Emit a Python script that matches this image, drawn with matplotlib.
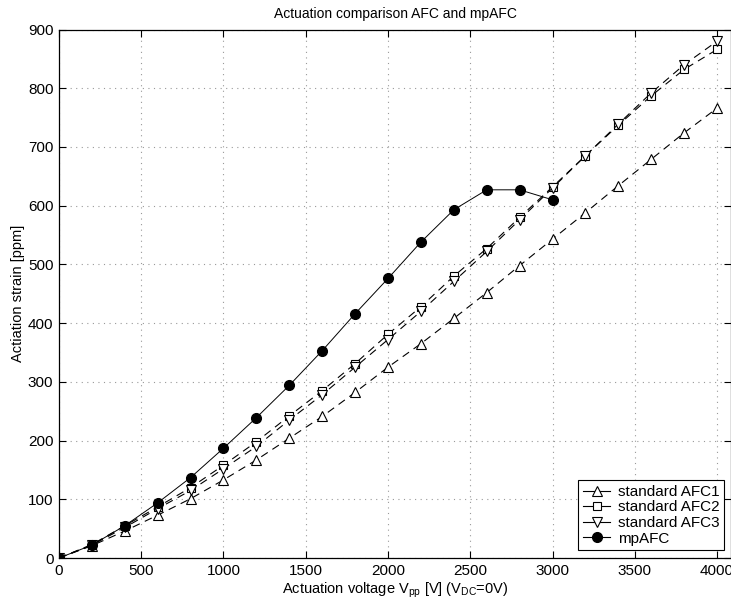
import matplotlib
matplotlib.use('Agg')
import matplotlib.pyplot as plt
from matplotlib.lines import Line2D

plt.rcParams['font.family'] = ['Liberation Sans', 'DejaVu Sans']
plt.rcParams['mathtext.default'] = 'regular'

# Actuation voltage (Vpp)
voltage = [0, 200, 400, 600, 800, 1000, 1200, 1400, 1600, 1800, 2000,
           2200, 2400, 2600, 2800, 3000, 3200, 3400, 3600, 3800, 4000]
voltage_mp = voltage[:16]

# strain in ppm
afc1 = [0, 21, 46, 73, 101, 133, 167, 204, 241, 282, 325,
        365, 408, 452, 498, 543, 588, 634, 679, 724, 766]
afc2 = [0, 23, 55, 87, 120, 158, 198, 242, 285, 331, 381,
        428, 480, 527, 580, 632, 685, 737, 787, 832, 866]
afc3 = [0, 22, 52, 84, 115, 152, 190, 235, 278, 325, 372,
        420, 471, 522, 576, 630, 685, 739, 792, 840, 880]
mpafc = [0, 22, 55, 94, 137, 187, 239, 294, 353, 416, 476,
         538, 593, 627, 627, 610]

labels = ['standard AFC1', 'standard AFC2', 'standard AFC3', 'mpAFC']

fig = plt.figure(figsize=(7.31, 6.07), dpi=100)
ax = fig.add_axes([0.0807, 0.0807, 0.9193, 0.8707])

dash = (0, (7, 5))
ax.plot(voltage, afc1, color='black', ls=dash, lw=0.8, marker='^',
        ms=7, mfc='white', mec='black', mew=0.8)
ax.plot(voltage, afc2, color='black', ls=dash, lw=0.8, marker='s',
        ms=6, mfc='white', mec='black', mew=0.8)
ax.plot(voltage, afc3, color='black', ls=dash, lw=0.8, marker='v',
        ms=7, mfc='white', mec='black', mew=0.8)
ax.plot(voltage_mp, mpafc, color='black', ls='-', lw=0.7, marker='o',
        ms=7, mfc='black', mec='black')

ax.set_xlim(0, 4085)
ax.set_ylim(0, 900)
ax.set_xticks(range(0, 4001, 500))
ax.set_yticks(range(0, 901, 100))
ax.tick_params(direction='in', length=5, width=0.8, top=True, right=True,
               labelsize=11, pad=4)
ax.grid(True, ls=(0, (1, 4)), color='#999999', lw=0.8)
for s in ax.spines.values():
    s.set_linewidth(0.9)

ax.set_title('Actuation comparison AFC and mpAFC', fontsize=10, pad=8)
ax.set_xlabel('Actuation voltage V$_{pp}$ [V] (V$_{DC}$=0V)', fontsize=10.5, labelpad=2)
ax.set_ylabel('Actiation strain [ppm]', fontsize=10.5, labelpad=2)

# legend keys drawn as "-marker-" like the original
handles = [
    Line2D([], [], color='black', lw=0.8, marker='^', ms=7, mfc='white', mew=0.8),
    Line2D([], [], color='black', lw=0.8, marker='s', ms=6, mfc='white', mew=0.8),
    Line2D([], [], color='black', lw=0.8, marker='v', ms=7, mfc='white', mew=0.8),
    Line2D([], [], color='black', lw=0.8, marker='o', ms=7, mfc='black'),
]
leg = ax.legend(handles, labels, loc='lower right', bbox_to_anchor=(0.99, 0.015),
                fontsize=11, fancybox=False, framealpha=1, edgecolor='black',
                handlelength=1.8, labelspacing=0.1, borderpad=0.3,
                handletextpad=0.5, borderaxespad=0)
leg.get_frame().set_linewidth(0.8)

fig.savefig('out.png', dpi=100)
